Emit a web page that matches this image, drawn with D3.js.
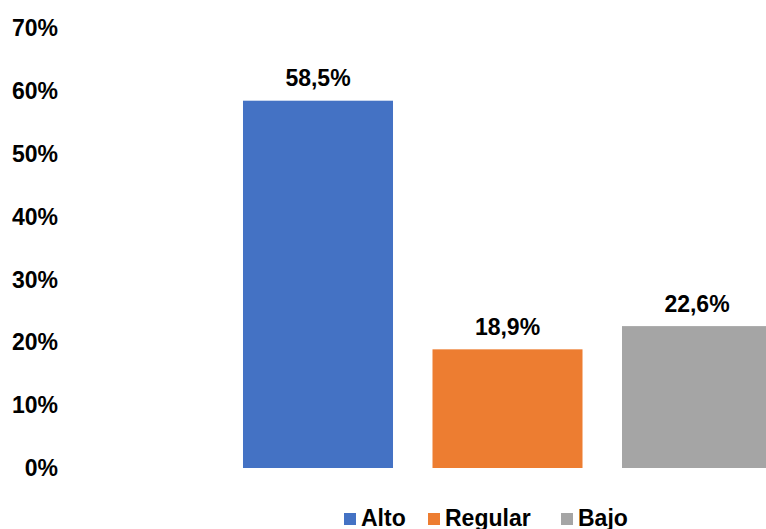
<!DOCTYPE html>
<html>
<head>
<meta charset="utf-8">
<script src="https://cdn.jsdelivr.net/npm/d3@7"></script>
<style>
  html, body { margin: 0; padding: 0; background: #fff; overflow: hidden; }
  svg { display: block; font-family: "Liberation Sans", Arial, sans-serif; }
</style>
</head>
<body>
<div id="chart"></div>
<script>
// datos
const categories = ['Alto', 'Regular', 'Bajo'];
const values = [58.5, 18.9, 22.6];
const colors = ['#4472C4', '#ED7D31', '#A5A5A5'];
const yTicks = [0, 10, 20, 30, 40, 50, 60, 70];

const width = 766;
const height = 529;

const svg = d3.select('#chart')
    .append('svg')
    .attr('width', width)
    .attr('height', height);

// escalas
const x = d3.scaleBand()
    .domain(categories)
    .range([203.5, 811.5])
    .padding(0.2084);

const y = d3.scaleLinear()
    .domain([0, 70])
    .range([468, 28.5]);

const fmt = v => v.toFixed(1).replace('.', ',') + '%';

// eje y (solo etiquetas)
const yAxis = svg.append('g')
    .attr('transform', 'translate(58,0)')
    .call(d3.axisLeft(y).tickValues(yTicks).tickSize(0).tickPadding(0).tickFormat(d => d + '%'));
yAxis.select('.domain').remove();
yAxis.selectAll('text')
    .attr('font-family', '"Liberation Sans", Arial, sans-serif')
    .attr('font-size', '23px')
    .attr('font-weight', 'bold')
    .attr('fill', '#000');

// barras
svg.append('g')
    .selectAll('rect')
    .data(categories)
    .enter().append('rect')
    .attr('x', d => x(d))
    .attr('y', (d, i) => y(values[i]))
    .attr('width', x.bandwidth())
    .attr('height', (d, i) => y(0) - y(values[i]))
    .attr('fill', (d, i) => colors[i]);

// etiquetas de datos
svg.append('g')
    .selectAll('text')
    .data(categories)
    .enter().append('text')
    .attr('x', d => x(d) + x.bandwidth() / 2)
    .attr('y', (d, i) => y(values[i]) - 14.5)
    .attr('text-anchor', 'middle')
    .attr('font-size', '23px')
    .attr('font-weight', 'bold')
    .attr('fill', '#000')
    .text((d, i) => fmt(values[i]));

// leyenda
const legendX = [344, 428, 561];
const legend = svg.append('g')
    .selectAll('g')
    .data(categories)
    .enter().append('g')
    .attr('transform', (d, i) => `translate(${legendX[i]},0)`);

legend.append('rect')
    .attr('x', 0)
    .attr('y', 513)
    .attr('width', 12)
    .attr('height', 12)
    .attr('fill', (d, i) => colors[i]);

legend.append('text')
    .attr('x', 17)
    .attr('y', 526)
    .attr('font-size', '23px')
    .attr('font-weight', 'bold')
    .attr('fill', '#000')
    .text(d => d);
</script>
</body>
</html>
